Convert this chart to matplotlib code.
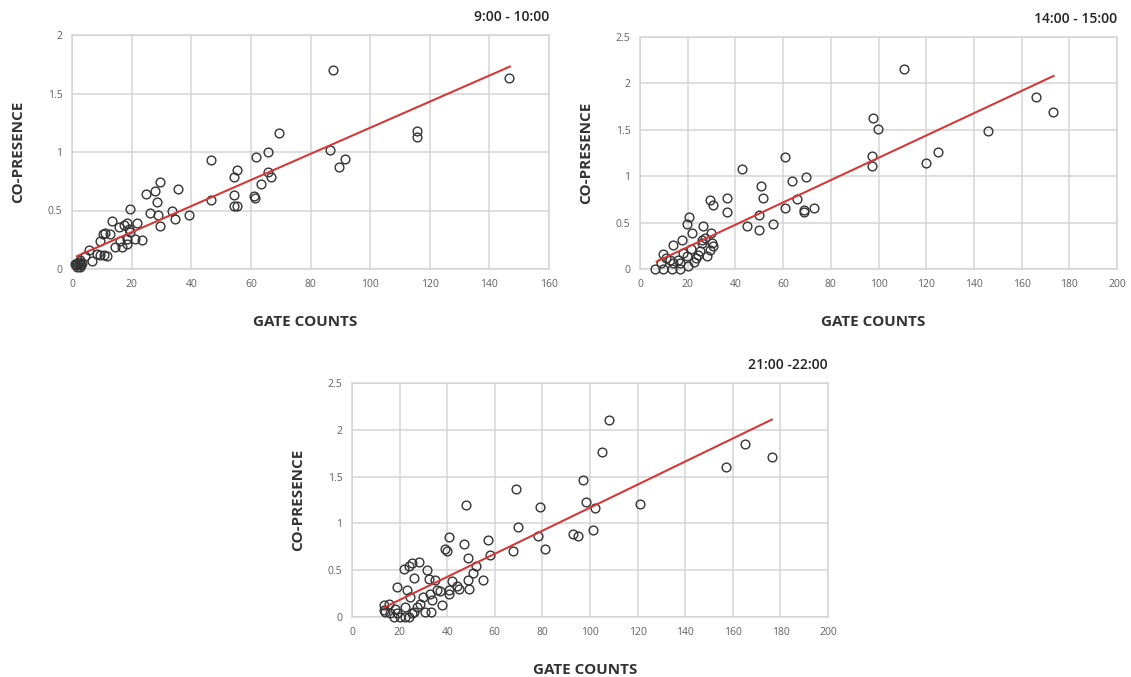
import numpy as np
import matplotlib
matplotlib.use("Agg")
import matplotlib.pyplot as plt

plt.rcParams['font.family'] = ['Open Sans', 'DejaVu Sans']

# ---------------- data ----------------
titles = ["9:00 - 10:00", "14:00 - 15:00", "21:00 -22:00"]
x_label = "GATE COUNTS"
y_label = "CO-PRESENCE"

x1 = [87.5, 146.6, 115.6, 115.6, 69.4, 86.6, 91.6, 89.6, 65.6, 61.6, 46.6, 55.5, 54.2,
      65.6, 66.7, 63.5, 54.2, 60.9, 61.5, 54.4, 55.5, 46.6, 39.4, 35.4, 34.6, 33.5, 29.4,
      27.7, 24.7, 28.5, 26.3, 28.8, 29.4, 19.3, 21.8, 18.4, 17.3, 13.4, 10.4, 12.9, 19.6,
      21.2, 23.5, 18.4, 14.5, 16.8, 18.4, 9.5, 5.6, 8.4, 10.6, 11.7, 6.7, 4.5, 2.8, 1.7,
      1.1, 2.2, 3.4, 1.7, 2.8, 15.6, 11.2, 16.2, 19.2, 9.5, 2.4, 3.0, 1.5]
y1 = [1.70, 1.63, 1.18, 1.125, 1.16, 1.02, 0.94, 0.87, 1.00, 0.96, 0.93, 0.85, 0.79,
      0.83, 0.79, 0.73, 0.63, 0.62, 0.605, 0.54, 0.54, 0.59, 0.46, 0.68, 0.43, 0.50, 0.74,
      0.67, 0.64, 0.57, 0.48, 0.46, 0.37, 0.51, 0.39, 0.39, 0.38, 0.41, 0.30, 0.30, 0.32,
      0.26, 0.25, 0.26, 0.19, 0.19, 0.21, 0.24, 0.16, 0.13, 0.12, 0.11, 0.065, 0.11, 0.08,
      0.05, 0.04, 0.04, 0.05, 0.02, 0.02, 0.36, 0.31, 0.24, 0.34, 0.12, 0.06, 0.03, 0.03]

x2 = [110.9, 166.0, 173.0, 146.0, 97.9, 99.7, 97.2, 97.2, 119.9, 124.9, 60.6, 42.7, 63.6,
      69.8, 50.6, 51.7, 65.7, 60.7, 68.7, 68.7, 73.0, 36.5, 36.5, 29.4, 30.5, 49.8, 44.8,
      49.7, 55.8, 20.6, 19.6, 26.6, 21.7, 17.5, 13.7, 29.6, 26.1, 30.1, 9.8, 6.3, 9.8,
      13.3, 16.8, 16.0, 19.6, 22.7, 25.2, 28.0, 29.4, 30.8, 24.5, 21.3, 18.2, 12.6, 8.7,
      14.0, 16.8, 25.9, 27.3, 11.0, 20.0, 23.5]
y2 = [2.15, 1.85, 1.69, 1.49, 1.63, 1.51, 1.22, 1.11, 1.14, 1.26, 1.21, 1.08, 0.95,
      0.99, 0.89, 0.77, 0.75, 0.66, 0.64, 0.61, 0.66, 0.76, 0.61, 0.74, 0.69, 0.58, 0.46,
      0.42, 0.48, 0.56, 0.48, 0.46, 0.39, 0.31, 0.26, 0.39, 0.31, 0.28, 0.16, 0.00, 0.00,
      0.00, 0.00, 0.10, 0.14, 0.08, 0.19, 0.14, 0.21, 0.25, 0.15, 0.22, 0.17, 0.10, 0.06,
      0.06, 0.06, 0.28, 0.33, 0.12, 0.03, 0.12]

x3 = [108.0, 105.2, 97.2, 98.2, 102.1, 101.3, 93.0, 95.1, 121.1, 157.2, 165.3, 176.4,
      69.0, 69.9, 78.9, 81.0, 78.0, 67.8, 47.8, 57.0, 58.0, 46.9, 48.8, 40.8, 39.2, 39.9,
      51.9, 51.0, 55.0, 48.7, 49.1, 42.0, 44.8, 40.8, 40.8, 38.0, 35.0, 31.5, 28.0, 25.2,
      21.7, 23.8, 25.9, 32.2, 18.9, 23.1, 24.5, 30.0, 33.6, 32.9, 35.7, 30.8, 33.0, 25.9,
      25.2, 22.4, 20.3, 17.5, 23.8, 18.2, 22.4, 27.3, 13.3, 13.3, 15.4, 14.0, 16.1, 18.9,
      28.7, 37.0, 44.0]
y3 = [2.11, 1.76, 1.46, 1.23, 1.16, 0.93, 0.89, 0.87, 1.21, 1.60, 1.85, 1.71,
      1.37, 0.96, 1.17, 0.73, 0.87, 0.70, 1.20, 0.82, 0.66, 0.78, 0.63, 0.86, 0.73, 0.70,
      0.55, 0.47, 0.39, 0.39, 0.30, 0.38, 0.30, 0.29, 0.25, 0.13, 0.39, 0.50, 0.59, 0.58,
      0.51, 0.54, 0.42, 0.41, 0.32, 0.29, 0.21, 0.21, 0.18, 0.25, 0.29, 0.05, 0.05, 0.05,
      0.04, 0.00, 0.00, 0.00, 0.00, 0.09, 0.11, 0.11, 0.07, 0.13, 0.14, 0.05, 0.04, 0.04,
      0.14, 0.28, 0.33]

# trend lines: (slope, intercept, x_start, x_end)
trend1 = [0.01116, 0.091, 1.7, 146.9]
trend2 = [0.01202, -0.004, 7.0, 173.4]
trend3 = [0.01232, -0.064, 13.3, 176.4]

xlim1, xticks1 = (0, 160), list(range(0, 161, 20))
ylim1, yticks1 = (0, 2), [0, 0.5, 1, 1.5, 2]
yticklabels1 = ["0", "0.5", "1", "1.5", "2"]
xlim2, xticks2 = (0, 200), list(range(0, 201, 20))
ylim2, yticks2 = (0, 2.5), [0, 0.5, 1, 1.5, 2, 2.5]
yticklabels2 = ["0", "0.5", "1", "1.5", "2", "2.5"]

# ---------------- layout ----------------
W, H = 1131, 677
fig = plt.figure(figsize=(W / 100, H / 100), dpi=100)

def px_axes(left, right, top, bottom):
    return fig.add_axes([left / W, 1 - bottom / H, (right - left) / W, (bottom - top) / H])

panels = [
    dict(box=(72, 549, 35, 269), x=x1, y=y1, tr=trend1, xlim=xlim1, xt=xticks1,
         ylim=ylim1, yt=yticks1, ytl=yticklabels1, title=titles[0]),
    dict(box=(640, 1117, 37, 269), x=x2, y=y2, tr=trend2, xlim=xlim2, xt=xticks2,
         ylim=ylim2, yt=yticks2, ytl=yticklabels2, title=titles[1]),
    dict(box=(352, 828, 383, 617), x=x3, y=y3, tr=trend3, xlim=xlim2, xt=xticks2,
         ylim=ylim2, yt=yticks2, ytl=yticklabels2, title=titles[2]),
]

grid_c = "#d4d4d4"
tick_c = "#606060"

for p in panels:
    l, r, t, b = p["box"]
    ax = px_axes(l, r, t, b)
    ax.set_xlim(*p["xlim"])
    ax.set_ylim(*p["ylim"])
    ax.set_xticks(p["xt"])
    ax.set_xticklabels([str(v) for v in p["xt"]])
    ax.set_yticks(p["yt"])
    ax.set_yticklabels(p["ytl"])
    ax.grid(True, color=grid_c, linewidth=1.1)
    ax.set_axisbelow(True)
    for s in ax.spines.values():
        s.set_color(grid_c)
        s.set_linewidth(1.1)
    ax.tick_params(length=0, labelsize=7.5, labelcolor=tick_c, pad=7)
    ax.plot(p["x"], p["y"], linestyle="none", marker="o", markersize=6.3,
            markerfacecolor="none", markeredgecolor="#333333", markeredgewidth=1.0,
            clip_on=False, zorder=3)
    m, c, xs, xe = p["tr"]
    xx = np.array([xs, xe])
    ax.plot(xx, m * xx + c, color="#d03a3a", linewidth=1.5, zorder=4)
    # panel title
    fig.text(r / W, 1 - (t - 18) / H, p["title"], ha="right", va="center",
             fontsize=10, fontweight="semibold", color="#222222")
    # axis labels
    fig.text(((l + r) / 2 - 5) / W, 1 - (b + 53) / H, x_label, ha="center", va="center",
             fontsize=11, fontweight="bold", color="#333333")
    fig.text((l - 54) / W, 1 - ((t + b) / 2) / H, y_label, ha="center", va="center",
             rotation=90, fontsize=11, fontweight="bold", color="#333333")

fig.savefig("out.png", dpi=100, facecolor="white")
